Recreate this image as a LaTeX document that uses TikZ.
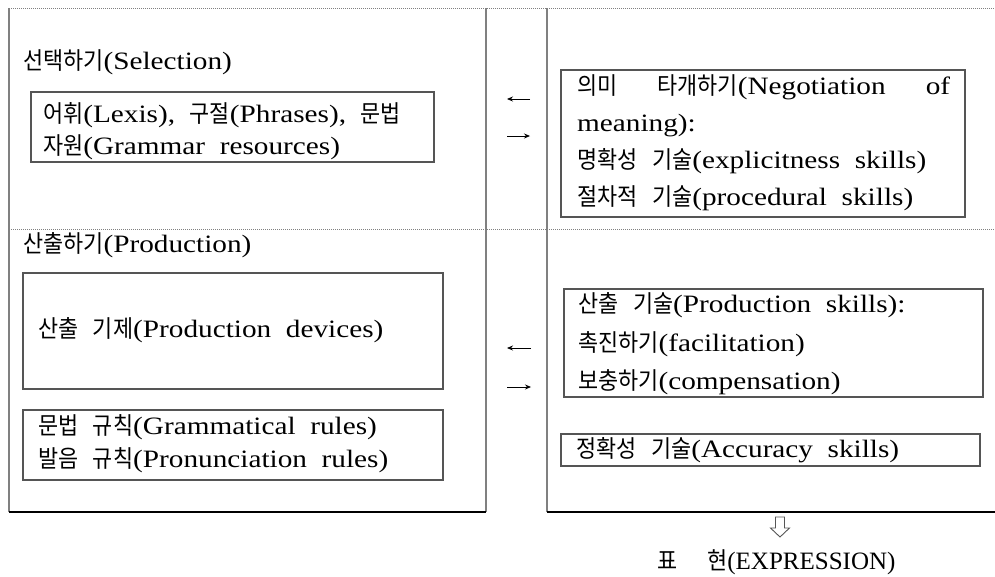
\documentclass[tikz,border=0pt]{standalone}
\usepackage{fontspec}
\setmainfont{Liberation Serif}[FakeStretch=1.17, WordSpace=2]
\newfontfamily\capsf{Liberation Serif}[WordSpace=2]
\newfontfamily\kr{Noto Sans CJK KR}[Scale=0.96, FakeStretch=0.91]
\usetikzlibrary{arrows.meta,calc}
\definecolor{frameg}{HTML}{808080}
\definecolor{boxg}{HTML}{555555}
\newcommand{\K}[1]{{\kr #1}}
\tikzset{
  txt/.style={anchor=base west, inner sep=0pt, text=black},
  box/.style={draw=boxg, line width=1.2pt, inner sep=0pt},
  vline/.style={draw=frameg, line width=1.5pt},
  hline/.style={draw=black, line width=1.3pt},
  dotline/.style={draw=gray, line width=1pt, dash pattern=on 1pt off 1pt},
  arr/.style={line width=0.8pt, -{Stealth[length=6pt,width=5pt]}},
}
\begin{document}
\begin{tikzpicture}[x=1pt,y=-1pt, font=\fontsize{25}{30}\selectfont]
\useasboundingbox (0,0) rectangle (995,576);
% frame coordinates
\coordinate (tl) at (9,8);
\coordinate (tr) at (995,8);
\coordinate (ml) at (9,229);
\coordinate (mr) at (995,229);
\coordinate (v1t) at (486,8);
\coordinate (v1b) at (486,512);
\coordinate (v2t) at (547,8);
\coordinate (v2b) at (547,512);
\coordinate (bl) at (9,512);
\coordinate (br) at (995,512);
% frame
\draw[dotline] (tl) -- (tr);
\draw[dotline] (ml) -- (mr);
\draw[vline] (tl) -- (bl);
\draw[vline] (v1t) -- (v1b);
\draw[vline] (v2t) -- (v2b);
\draw[hline] (bl) -- (v1b);
\draw[hline] (v2b) -- (br);

% left top
\node[txt] (sel) at (23,69) {\K{선택하기}(Selection)};
\node[box, minimum width=403pt, minimum height=70pt] (boxA) at (232.5,127) {};
\node[txt] (a1) at (43,122) {\K{어휘}(Lexis), \K{구절}(Phrases), \K{문법}};
\node[txt] (a2) at (43,154) {\K{자원}(Grammar resources)};

% left bottom
\node[txt] (prod) at (23,252) {\K{산출하기}(Production)};
\node[box, minimum width=420pt, minimum height=116pt] (boxC) at (233,331) {};
\node[txt] (c1) at (38,337) {\K{산출} \K{기제}(Production devices)};
\node[box, minimum width=420pt, minimum height=70pt] (boxD) at (233,445) {};
\node[txt] (d1) at (38,434) {\K{문법} \K{규칙}(Grammatical rules)};
\node[txt] (d2) at (38,467) {\K{발음} \K{규칙}(Pronunciation rules)};

% right top
\node[box, minimum width=404pt, minimum height=147pt] (boxB) at (763,143.5) {};
\node[txt] (b1) at (577,94) {\makebox[373pt][s]{\K{의미} \K{타개하기}(Negotiation of}};
\node[txt] (b2) at (577,131) {meaning):};
\node[txt] (b3) at (577,168) {\K{명확성} \K{기술}(explicitness skills)};
\node[txt] (b4) at (577,205) {\K{절차적} \K{기술}(procedural skills)};

% right bottom
\node[box, minimum width=419pt, minimum height=108pt] (boxE) at (773.5,343) {};
\node[txt] (e1) at (578,312) {\K{산출} \K{기술}(Production skills):};
\node[txt] (e2) at (578,351) {\K{촉진하기}(facilitation)};
\node[txt] (e3) at (578,389) {\K{보충하기}(compensation)};
\node[box, minimum width=419pt, minimum height=32pt] (boxF) at (770.5,450) {};
\node[txt] (f1) at (576,457) {\K{정확성} \K{기술}(Accuracy skills)};

% arrows between columns
\coordinate (a1s) at (530,99);  \coordinate (a1e) at (507,99);
\coordinate (a2s) at (507,136); \coordinate (a2e) at (530,136);
\coordinate (a3s) at (531,348); \coordinate (a3e) at (507,348);
\coordinate (a4s) at (507,387); \coordinate (a4e) at (531,387);
\draw[arr] (a1s) -- (a1e);
\draw[arr] (a2s) -- (a2e);
\draw[arr] (a3s) -- (a3e);
\draw[arr] (a4s) -- (a4e);

% hollow down arrow
\coordinate (dn) at (780,517);
\draw[draw=boxg, line width=0.9pt, line join=miter]
  ($(dn)+(-4.5,0)$) -- ($(dn)+(4.5,0)$) -- ($(dn)+(4.5,11)$) -- ($(dn)+(9.5,11)$)
  -- ($(dn)+(0,20)$) -- ($(dn)+(-9.5,11)$) -- ($(dn)+(-4.5,11)$) -- cycle;

% expression
\node[txt] (expr) at (657,569) {\K{표}\hspace{30pt}\K{현}{\capsf(EXPRESSION)}};
\end{tikzpicture}
\end{document}
